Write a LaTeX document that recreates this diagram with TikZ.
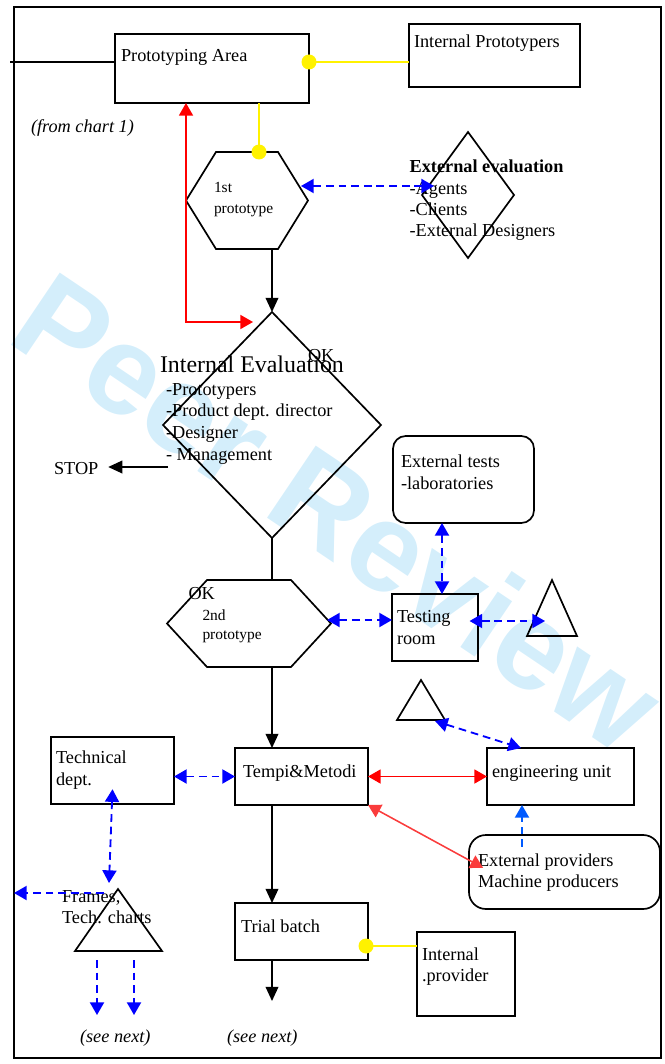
\documentclass[tikz,border=0pt]{standalone}
\usepackage{fontspec}
\setmainfont{Liberation Serif}
\newfontfamily\wmfont{Liberation Sans}
\usetikzlibrary{shapes.geometric,arrows.meta}
\definecolor{wmblue}{RGB}{212,238,251}
\definecolor{lred}{RGB}{250,60,60}
\definecolor{lblue}{RGB}{0,90,255}
\tikzset{
  wh/.style 2 args={minimum width=#1*0.025cm,minimum height=#2*0.025cm},
  box/.style={draw,line width=1.2pt,inner sep=0pt,outer sep=0pt},
  rbox/.style={box,rounded corners=#1},
  shp/.style={line width=1.2pt,line join=miter},
  txt/.style={anchor=base west,inner sep=0pt,outer sep=0pt,font=\fontsize{13}{15}\selectfont},
  sm/.style={txt,font=\fontsize{11}{13}\selectfont},
  arr/.style={line width=1pt,-{Triangle[length=10pt,width=9pt]}},
  bto/.style={-{Triangle[length=9pt,width=10pt]}},
  darr/.style={{Triangle[length=9pt,width=10pt]}-{Triangle[length=9pt,width=10pt]}},
  bd/.style={blue,line width=1.3pt,dash pattern=on 5.5pt off 3.5pt},
  rln/.style={line width=1.1pt},
  yel/.style={yellow,line width=1pt}
}
\begin{document}
\begin{tikzpicture}[x=0.025cm,y=-0.025cm]
\pgfmathsetmacro{\kcx}{272}
\useasboundingbox(0,0)rectangle(664,1064);
\node[anchor=base west,inner sep=0pt,rotate=-34,text=wmblue,font=\wmfont\bfseries\fontsize{90}{90}\selectfont](wmark) at (4,340){Peer Review};
\node[box,line width=1.4pt,wh={647}{1051}](frame) at (337.5,532.5){};
\node[box,wh={194}{69}](proto) at (212,68.5){};
\node[box,wh={171}{63}](intproto) at (494.5,55.5){};
\node[box,shape=diamond,wh={92}{126}](exteval) at (468,195){};
\node[box,shape=diamond,wh={218}{226}](inteval) at (\kcx,425){};
\node[rbox=9pt,wh={141}{87}](exttests) at (463.5,479.5){};
\node[box,wh={86}{67}](testing) at (435,627.5){};
\node[box,wh={123}{67}](techdept) at (112.5,770.5){};
\node[box,wh={133}{57}](tempi) at (301.5,776.5){};
\node[box,wh={147}{57}](eng) at (560.5,776.5){};
\node[rbox=12pt,wh={191}{74}](extprov) at (564.5,872){};
\node[box,wh={133}{57}](trial) at (301.5,931.5){};
\node[box,wh={98}{84}](intprov) at (466,974){};
\draw[shp](186,200.5)--(216,152)--(278,152)--(308,200.5)--(278,249)--(216,249)--cycle;
\draw[shp](167,623.5)--(207,580)--(291,580)--(331,623.5)--(291,667)--(207,667)--cycle;
\draw[shp](552,580)--(577,636)--(527,636)--cycle;
\draw[shp](421,680)--(445,720)--(397,720)--cycle;
\draw[shp](118,889)--(162,951)--(75,951)--cycle;
\coordinate(pfrom) at (10,62);
\coordinate(pdot) at (309,62);
\coordinate(h1top) at (259,152);
\coordinate(h1bot) at (\kcx,249);
\coordinate(h1east) at (301,186);
\coordinate(eein) at (434,186);
\coordinate(rcorner) at (186,322);
\coordinate(iein) at (253,322);
\coordinate(stopin) at (168,467);
\coordinate(h2top) at (\kcx,580);
\coordinate(h2bot) at (\kcx,667);
\coordinate(h2east) at (327,620);
\coordinate(etx) at (442,0);
\coordinate(tri1in) at (545,621);
\coordinate(tri2in) at (435,721);
\coordinate(engx) at (521,0);
\coordinate(epx) at (522,0);
\coordinate(tri3top) at (109,883);
\coordinate(tri3left) at (104,893);
\coordinate(trialout) at (\kcx,1001);
\coordinate(tdot) at (366,946);
\foreach \tx/\ty/\tl [count=\i] in {121/62/Prototyping Area,414/48/Internal Prototypers,308/361/OK,54/474/STOP,401/467/External tests,401/489/-laboratories,188.5/599/OK,397/622/Testing,397/644/room,56/763/Technical,56/785/dept.,243/777/Tempi\&Metodi,492/777/engineering unit,478/866/External providers,478/887/Machine producers,62/902/{Frames,},62/923/Tech. charts,241/932/Trial batch,422/960/Internal,422/981/.provider}{\node[txt](t\i) at (\tx,\ty){\tl};}
\node[txt,font=\fontsize{13}{15}\selectfont\itshape](tfrom) at (31,133){(from chart 1)};
\node[txt,font=\fontsize{13}{15}\selectfont\itshape](tnext1) at (80,1042){(see next)};
\node[txt,font=\fontsize{13}{15}\selectfont\itshape](tnext2) at (227,1042){(see next)};
\node[sm](t1st) at (214,193){1st};
\node[sm](tproto1) at (214,213){prototype};
\node[sm](t2nd) at (202.5,620){2nd};
\node[sm](tproto2) at (202.5,639){prototype};
\node[txt,font=\fontsize{13}{15}\selectfont\bfseries](teval) at (409.6,173){External evaluation};
\foreach \tl [count=\i] in {-Agents,-Clients,-External Designers}{\node[txt](tee\i) at (409.6,173+21.3*\i){\tl};}
\node[txt,font=\fontsize{17}{20}\selectfont](tie) at (160,372){Internal Evaluation};
\foreach \tl [count=\i] in {-Prototypers,-Product dept. director,-Designer,- Management}{\node[txt](tie\i) at (166,373.3+21.7*\i){\tl};}
\draw[line width=1pt](pfrom)--(pfrom-|proto.west);
\draw[yel](pdot)--(pdot-|intproto.west);
\draw[yel](h1top|-proto.south)--(h1top);
\fill[yellow](pdot)circle[radius=7.5];
\fill[yellow](h1top)circle[radius=7.5];
\draw[red,rln,darr](rcorner|-proto.south)--(rcorner)--(iein);
\draw[arr](h1bot)--(inteval.north);
\draw[bd,darr](h1east)--(eein);
\draw[arr](stopin)--([xshift=7pt]t4.east|-stopin);
\draw[line width=1pt](inteval.south)--(h2top);
\draw[arr](h2bot)--(h2bot|-tempi.north);
\draw[bd,darr](h2east)--(h2east-|testing.west);
\draw[bd,darr](exttests.south-|etx)--(testing.north-|etx);
\draw[bd,darr]([xshift=-6pt]tri1in-|testing.east)--(tri1in);
\draw[bd,darr](tempi.west-|techdept.east)--(tempi.west);
\draw[red,rln,darr](tempi.east)--(eng.west);
\draw[bd,darr](tri2in)--(eng.north-|engx);
\draw[lred,rln,darr](tempi.south east)--([shift={(10pt,3pt)}]extprov.west);
\draw[bd,lblue,bto]([yshift=-8.5pt]extprov.north-|epx)--(eng.south-|epx);
\draw[bd,darr]([yshift=10.5pt]techdept.south)--(tri3top);
\draw[bd,bto](tri3left)--(tri3left-|frame.west);
\foreach \x in {97,134}{\draw[bd,bto](\x,960)--(\x,1015);}
\draw[arr](tempi.south-|h2bot)--(trial.north-|h2bot);
\draw[arr](trial.south-|trialout)--(trialout);
\draw[yel](tdot)--(tdot-|intprov.west);
\fill[yellow](tdot)circle[radius=7.5];
\end{tikzpicture}
\end{document}
